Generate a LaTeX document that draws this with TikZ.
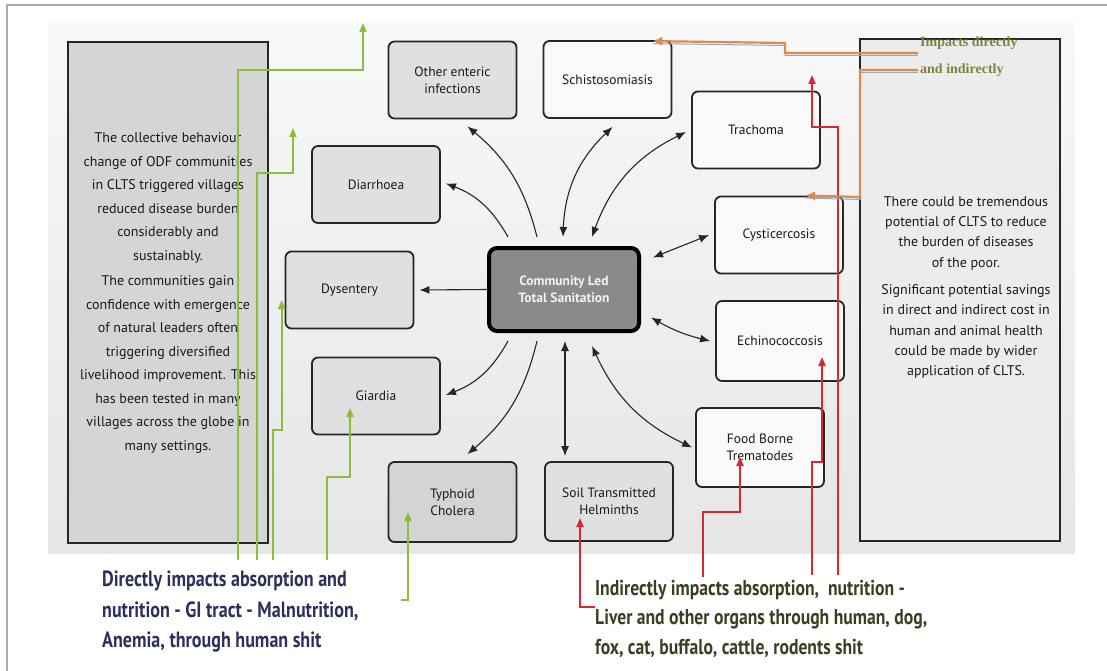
\documentclass[tikz,border=0pt]{standalone}
\usepackage{fontspec}
\setmainfont{PT Sans}
\newfontfamily\notefont[FakeStretch=0.82]{PT Sans}
\newfontfamily\tagfont{Liberation Serif}
\usetikzlibrary{arrows.meta,calc}
\definecolor{cDirect}{HTML}{8CBD3F}
\definecolor{cIndirect}{HTML}{D62830}
\definecolor{cBoth}{HTML}{DC8B4E}
\definecolor{cBothLow}{HTML}{93A9C2}
\definecolor{cNavy}{HTML}{2B305C}
\definecolor{cOlive}{HTML}{394020}
\definecolor{cTag}{HTML}{7E823C}

\begin{document}
\begin{tikzpicture}[x=1pt, y=-1pt,
  disease/.style={
    draw=black!85, line width=1.8pt, rounded corners=6pt,
    minimum width=128pt, minimum height=77pt, inner sep=2pt,
    font=\fontsize{13.5}{17}\selectfont, text=black!90, align=center
  },
  dgrey/.style={disease, fill=gray!24},
  dpale/.style={disease, fill=gray!5},
  hub/.style={
    draw=black, line width=4pt, rounded corners=8pt, fill=black!46,
    minimum width=150pt, minimum height=83pt, align=center,
    font=\bfseries\fontsize{13.5}{17}\selectfont, text=gray!10
  },
  infobox/.style={draw=black!85, line width=2pt, minimum width=200pt, minimum height=501pt},
  infotext/.style={align=center, text=black!90},
  note/.style={anchor=north west, align=left, inner sep=0pt,
    font=\notefont\bfseries\fontsize{22}{30.5}\selectfont},
  spoke/.style={draw=black!85, line width=1.1pt, -{Latex[length=10pt,width=8pt]}},
  spoke2/.style={spoke, {Latex[length=10pt,width=8pt]}-{Latex[length=10pt,width=8pt]}},
  direct/.style={draw=cDirect, line width=2pt, -{Triangle[length=9pt,width=7pt]}},
  indirect/.style={draw=cIndirect, line width=2pt, -{Triangle[length=9pt,width=7pt]}},
  both/.style={draw=cBoth, line width=2.2pt, -{Triangle[length=9pt,width=8pt]},
    preaction={draw=cBothLow, line width=1pt, -, transform canvas={yshift=-2.5pt}}}
]
\useasboundingbox (0,0) rectangle (1107,671);

% sheet and frame
\fill[top color=gray!5, bottom color=gray!20] (48,22) rectangle (1075,553);
\draw[gray!65, line width=1.5pt] (7,671) -- (7,5) -- (1107,5);

% side panels
\node[infobox, fill=gray!33] (leftbox) at (168,292.5) {};
\node[infobox, fill=gray!15] (rightbox) at (960,290) {};
\node[infotext, font=\fontsize{14}{23.5}\selectfont] (lefttext) at (168,293) {%
  The collective behaviour\\ change of ODF communities\\ in CLTS triggered villages\\
  reduced disease burden\\ considerably and\\ sustainably.\\[2pt]
  The communities gain\\ confidence with emergence\\ of natural leaders often\\
  triggering diversified\\ livelihood improvement. This\\ has been tested in many\\
  villages across the globe in\\ many settings.};
\node[infotext, font=\fontsize{14}{20.3}\selectfont] (righttext) at (966,287.5) {%
  There could be tremendous\\ potential of CLTS to reduce\\ the burden of diseases\\
  of the poor.\\[7pt]
  Significant potential savings\\ in direct and indirect cost in\\ human and animal health\\
  could be made by wider\\ application of CLTS.};

% Row 0
\node[dgrey] (enteric) at (452.5,80) {Other enteric\\infections};
\node[dpale] (schisto) at (607.5,79.5) {Schistosomiasis};
\node[dpale] (trachoma) at (756,130) {Trachoma};
% Row 1
\node[dgrey] (diarrhoea) at (376,184.5) {Diarrhoea};
\node[dpale] (cysti) at (779,235) {Cysticercosis};
% Row 2
\node[dgrey] (dysentery) at (349.5,290) {Dysentery};
\node[hub] (clts) at (564,289.5) {Community Led\\Total Sanitation};
\node[dpale, minimum height=80pt] (echino) at (780,341) {Echinococcosis};
% Row 3
\node[dgrey] (giardia) at (376,396) {Giardia};
\node[dpale, minimum height=79pt] (food) at (760,447.5) {Food Borne\\Trematodes};
% Row 4
\node[dgrey, fill=gray!34, minimum height=80pt] (typhoid) at (452.5,502) {Typhoid\\Cholera};
\node[dgrey, minimum height=79pt] (soil) at (609,501.5) {Soil Transmitted\\Helminths};

% spokes out of the hub
\draw[spoke] ($(clts.north)+(-27,-9)$) to[bend right=18] ($(enteric.south)+(15,7)$);
\draw[spoke] ($(clts.north)+(-56,-9)$) to[bend right=20] ($(diarrhoea.east)+(5,-1)$);
\draw[spoke] (clts.west) -- ($(dysentery.east)+(5,0)$);
\draw[spoke] ($(clts.south)+(-56,8)$) to[bend left=20] ($(giardia.east)+(5,-1)$);
\draw[spoke] ($(clts.south)+(-27,8)$) to[bend left=18] ($(typhoid.north)+(15,-7)$);
\draw[spoke2] ($(clts.north)+(-1,-9)$) to[bend left=22] ($(schisto.south)+(5,8)$);
\draw[spoke2] ($(clts.north)+(28,-9)$) to[bend left=22] ($(trachoma.west)+(-5,2)$);
\draw[spoke2] ($(clts.east)+(12,-32)$) -- ($(cysti.west)+(-5,0)$);
\draw[spoke2] ($(clts.east)+(10,28)$) to[bend right=8] ($(echino.west)+(-5,0)$);
\draw[spoke2] ($(clts.south)+(28,13)$) to[bend right=20] ($(food.west)+(-3,0)$);
\draw[spoke2] ($(clts.south)+(1,8)$) -- ($(soil.north)+(-44,-5)$);

% captions
\node[note, text=cNavy] (directnote) at (102,571)
  {Directly impacts absorption and\\nutrition - GI tract - Malnutrition,\\Anemia, through human shit};
\node[note, text=cOlive, font=\notefont\bfseries\fontsize{21.5}{29.5}\selectfont] (indirectnote) at (595,580)
  {Indirectly impacts absorption,\ \ nutrition -\\Liver and other organs through human, dog,\\fox, cat, buffalo, cattle, rodents shit};
\node[anchor=west, inner sep=0pt, text=cTag, font=\tagfont\bfseries\fontsize{14}{18}\selectfont] (tagA) at (920,43) {Impacts directly};
\node[anchor=west, inner sep=0pt, text=cTag, font=\tagfont\bfseries\fontsize{14}{18}\selectfont] (tagB) at (920,70) {and indirectly};

% free ends of the impact lines
\coordinate (dA) at (238,560);
\coordinate (dB) at (257,560);
\coordinate (dC) at (273,560);
\coordinate (dD) at (327,560);
\coordinate (dE) at (401,600);
\coordinate (topA) at (363,23);
\coordinate (topB) at (293,128);
\coordinate (iA) at (595,607);
\coordinate (iB) at (703,577);
\coordinate (iC) at (812,575);
\coordinate (iD) at (838,575);
\coordinate (topC) at (812,75);

% green: direct
\draw[direct] (dA) |- ($(topA)+(0,47)$) -- (topA);
\draw[direct] (dB) |- ($(topB)+(0,45)$) -- (topB);
\draw[direct] (dC) |- ($(dysentery.west)+(-3,140)$) -- ($(dysentery.west)+(-3,10)$);
\draw[direct] (dD) |- ($(giardia.center)+(-26,81)$) -- ($(giardia.center)+(-26,12)$);
\draw[direct] (dE) -- ++(7,0) -- ($(typhoid.center)+(-44.5,10)$);

% red: indirect
\draw[indirect] (iA) -| ($(soil.center)+(-29,16.5)$);
\draw[indirect] (iB) |- ($(food.center)+(-20,64.5)$) -- ($(food.center)+(-20,9.5)$);
\draw[indirect] (iC) |- ($(echino.center)+(42,121)$) -- ($(echino.center)+(42,16)$);
\draw[indirect] (iD) |- ($(topC)+(0,52)$) -- (topC);

% orange: both
\draw[both] ($(tagA.west)+(-2,10)$) -- (785,53) -- (785,43) -- ($(schisto.north east)+(-19,1)$);
\draw[both] ($(tagB.west)+(-2,0)$) -- (860,70) -- (860,197) -- ($(cysti.north east)+(-38,0)$);
\end{tikzpicture}
\end{document}
